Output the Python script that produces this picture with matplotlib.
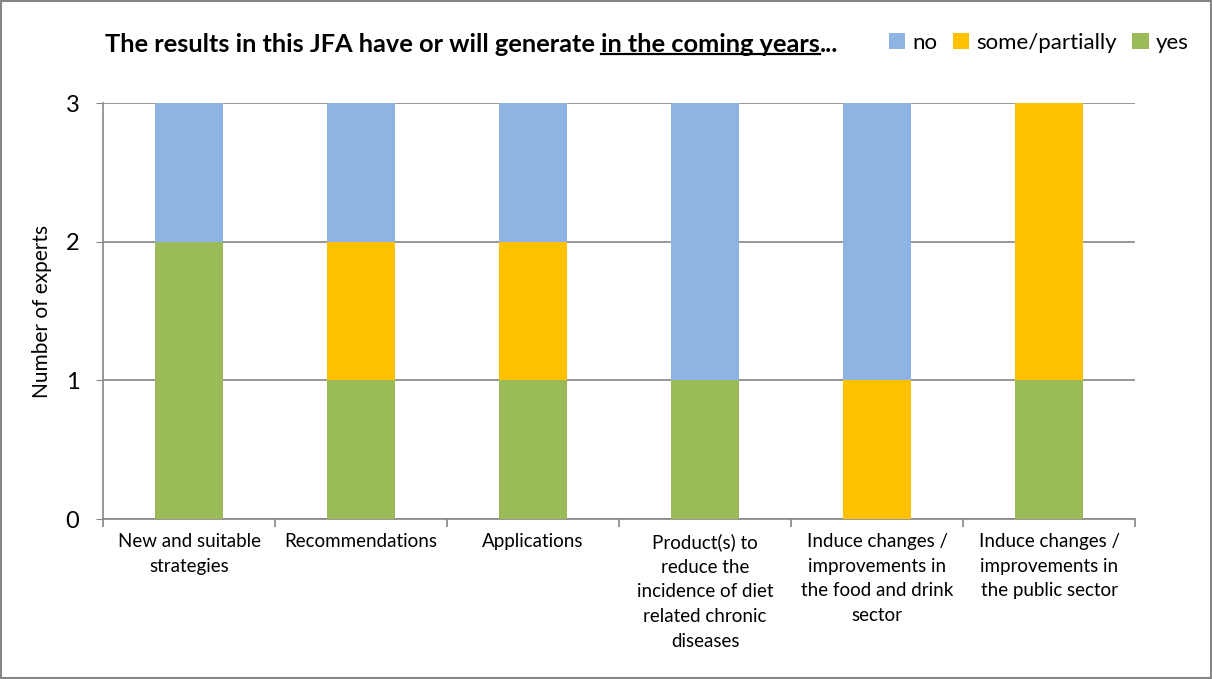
import matplotlib.pyplot as plt
import numpy as np
from matplotlib.patches import Rectangle

plt.rcParams['font.family'] = ['Lato', 'DejaVu Sans']

categories = [
    "New and suitable\nstrategies",
    "Recommendations",
    "Applications",
    "Product(s) to\nreduce the\nincidence of diet\nrelated chronic\ndiseases",
    "Induce changes /\nimprovements in\nthe food and drink\nsector",
    "Induce changes /\nimprovements in\nthe public sector",
]
yes = [2, 1, 1, 1, 0, 1]
some = [0, 1, 1, 0, 1, 2]
no = [1, 1, 1, 2, 2, 0]

c_no = "#8EB4E3"
c_some = "#FFC000"
c_yes = "#9BBB59"
grey = "#868686"

fig = plt.figure(figsize=(12.12, 6.79), dpi=100)
ax = fig.add_axes([0.085, 0.2356, 0.8515, 0.6127])

x = np.arange(len(categories))
yes = np.array(yes)
some = np.array(some)
no = np.array(no)
w = 0.4
ax.bar(x, yes, w, color=c_yes, label="yes", zorder=3)
ax.bar(x, some, w, bottom=yes, color=c_some, label="some/partially", zorder=3)
ax.bar(x, no, w, bottom=yes + some, color=c_no, label="no", zorder=3)

ax.set_xlim(-0.5, len(categories) - 0.5)
ax.set_ylim(0, 3)
ax.set_yticks([0, 1, 2, 3])
ax.tick_params(axis='y', labelsize=17, length=5, color=grey, direction='out', pad=12)
ax.yaxis.grid(True, color=grey, linewidth=1.2, zorder=0)

# category labels sit between boundary ticks
ax.set_xticks(np.arange(len(categories) + 1) - 0.5)
ax.set_xticklabels([])
ax.tick_params(axis='x', length=6, color=grey, width=1.2)
for xi, lab in zip(x, categories):
    ax.text(xi, -0.1, lab, ha='center', va='top', fontsize=13.5,
            transform=ax.transData, linespacing=1.55)

for s in ['top', 'right']:
    ax.spines[s].set_visible(False)
for s in ['left', 'bottom']:
    ax.spines[s].set_color(grey)
    ax.spines[s].set_linewidth(1.2)

ax.set_ylabel("Number of experts", fontsize=15, labelpad=10)

# title with underlined tail
ty = 0.935
fs = 18.3
t1 = fig.text(0.0865, ty, "The results in this JFA have or will generate ",
              fontsize=fs, fontweight='bold', va='center', ha='left')
fig.canvas.draw()
r = fig.canvas.get_renderer()
bb = t1.get_window_extent(r).transformed(fig.transFigure.inverted())
t2 = fig.text(bb.x1, ty, "in the coming years", fontsize=fs,
              fontweight='bold', va='center', ha='left')
bb2 = t2.get_window_extent(r).transformed(fig.transFigure.inverted())
t3 = fig.text(bb2.x1, ty, "...", fontsize=fs, fontweight='bold',
              va='center', ha='left')
fig.add_artist(plt.Line2D([bb2.x0, bb2.x1], [bb2.y0 + 0.003, bb2.y0 + 0.003],
                          color='black', linewidth=1.6, transform=fig.transFigure))

handles, labels = ax.get_legend_handles_labels()
order = [2, 1, 0]
fig.legend([handles[i] for i in order], [labels[i] for i in order],
           loc='center right', bbox_to_anchor=(0.997, 0.937), ncol=3,
           frameon=False, fontsize=16, handlelength=0.75, handleheight=0.75,
           handletextpad=0.3, columnspacing=0.7)

fig.add_artist(Rectangle((0.001, 0.001), 0.998, 0.998, fill=False,
                         edgecolor=grey, linewidth=1.5, transform=fig.transFigure))

fig.savefig("out.png", dpi=100)
